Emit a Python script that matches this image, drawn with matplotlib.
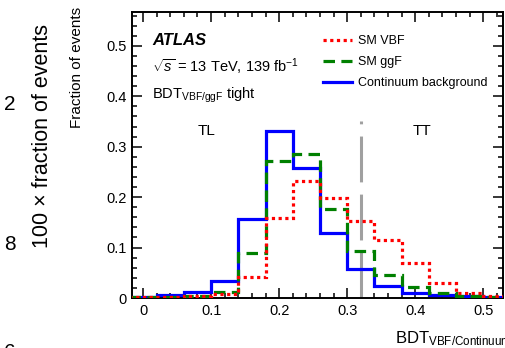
import numpy as np
import matplotlib
matplotlib.use('Agg')
import matplotlib.pyplot as plt
from matplotlib.ticker import AutoMinorLocator, FuncFormatter

plt.rcParams['font.family'] = ['Liberation Sans', 'DejaVu Sans']
plt.rcParams['mathtext.fontset'] = 'custom'
plt.rcParams['mathtext.rm'] = 'Liberation Sans'
plt.rcParams['mathtext.it'] = 'Liberation Sans:italic'
plt.rcParams['mathtext.bf'] = 'Liberation Sans:bold'

# bin edges of BDT_VBF/Continuum
edges = np.round(np.arange(-0.02, 0.541, 0.04), 2)

# fraction of events per bin
sm_vbf = [0.001, 0.002, 0.003, 0.007, 0.042, 0.158, 0.231, 0.199,
          0.153, 0.115, 0.069, 0.029, 0.009, 0.003]
sm_ggf = [0.001, 0.002, 0.004, 0.0125, 0.090, 0.272, 0.285, 0.177,
          0.094, 0.046, 0.022, 0.009, 0.004, 0.002]
continuum = [0.002, 0.005, 0.011, 0.034, 0.156, 0.331, 0.257, 0.128,
             0.058, 0.024, 0.009, 0.005, 0.003, 0.002]

cut_value = 0.32
cut_top = 0.35

W, H = 505, 348
fig = plt.figure(figsize=(W / 100, H / 100), dpi=100)
ax = fig.add_axes([132 / W, (H - 298) / H, 371 / W, 286 / H])

ax.stairs(continuum, edges, baseline=None, color='#0000ff', lw=2.3,
          label='Continuum background', zorder=3)
ax.stairs(sm_ggf, edges, baseline=None, color='#008000', lw=2.3,
          linestyle=(0, (3.6, 2.0)), label='SM ggF', zorder=4)
ax.stairs(sm_vbf, edges, baseline=None, color='#ff0000', lw=2.3,
          linestyle=(0, (1, 1.1)), label='SM VBF', zorder=5)

ax.plot([cut_value, cut_value], [0, cut_top], color='#a0a0a0', lw=2.2,
        linestyle=(0, (15, 4)), zorder=2)

ax.set_xlim(-0.0162, 0.529)
ax.set_ylim(0, 0.567)

fmt = FuncFormatter(lambda v, p: '0' if abs(v) < 1e-9 else '%.1f' % v)
ax.xaxis.set_major_formatter(fmt)
ax.yaxis.set_major_formatter(fmt)
ax.set_xticks([0, 0.1, 0.2, 0.3, 0.4, 0.5])
ax.set_yticks([0, 0.1, 0.2, 0.3, 0.4, 0.5])
ax.xaxis.set_minor_locator(AutoMinorLocator(5))
ax.yaxis.set_minor_locator(AutoMinorLocator(5))
ax.tick_params(which='both', direction='in', top=True, right=True,
               width=1.1, labelsize=10.5)
ax.tick_params(which='major', length=7, pad=4)
ax.tick_params(which='minor', length=3.5)
for s in ax.spines.values():
    s.set_linewidth(1.4)

ax.text(0.054, 0.885, 'ATLAS', transform=ax.transAxes, fontsize=12,
        fontweight='bold', fontstyle='italic', va='baseline')
ax.text(0.054, 0.79, r'$\sqrt{s}$ = 13 TeV, 139 fb$^{-1}$',
        transform=ax.transAxes, fontsize=10.5, va='baseline')
ax.text(0.054, 0.697, r'BDT$_{\mathrm{VBF/ggF}}$ tight',
        transform=ax.transAxes, fontsize=10.5, va='baseline')
ax.text(0.094, 0.331, 'TL', fontsize=11, ha='center', va='center')
ax.text(0.41, 0.331, 'TT', fontsize=11, ha='center', va='center')

handles, labels = ax.get_legend_handles_labels()
order = [2, 1, 0]
ax.legend([handles[i] for i in order], [labels[i] for i in order],
          loc='upper left', bbox_to_anchor=(0.515, 0.918), frameon=False,
          fontsize=9, handlelength=2.3, handletextpad=0.5,
          labelspacing=0.72, borderpad=0, borderaxespad=0)

ax.text(-0.148, 1.017, 'Fraction of events', transform=ax.transAxes,
        rotation=90, fontsize=11, ha='center', va='top')

fig.text(395 / W, (H - 343) / H, r'BDT$_{\mathrm{VBF/Continuum}}$',
         fontsize=12, ha='left', va='baseline')

# pieces of the neighbouring panel
fig.text(10 / W, 1 - 104 / H, '2', fontsize=15, ha='center', va='center')
fig.text(10 / W, 1 - 245 / H, '8', fontsize=15, ha='center', va='center')
fig.text(10 / W, 1 - 352 / H, '6', fontsize=15, ha='center', va='center')
fig.text(43 / W, 1 - 136 / H, '100 × fraction of events', fontsize=15.5,
         rotation=90, ha='center', va='center')

fig.savefig('out.png', dpi=100)
